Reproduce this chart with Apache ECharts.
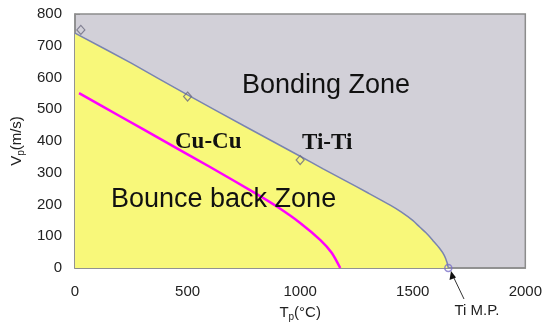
<!DOCTYPE html>
<html>
<head>
<meta charset="utf-8">
<script src="https://cdn.jsdelivr.net/npm/echarts@6/dist/echarts.min.js"></script>
<style>html,body{margin:0;padding:0;background:#fff}#c{width:545px;height:331px}</style>
</head>
<body>
<div id="c"></div>
<script>
// Boundary curve (Ti-Ti critical velocity) : temperature (°C) / velocity (m/s)
const boundaryT = [0, 250, 500, 750, 1000, 1100, 1200, 1300, 1400, 1450, 1500, 1531, 1560, 1590, 1619, 1640, 1652, 1658];
const boundaryV = [740, 645, 545, 448, 352, 313, 275, 237, 198, 176, 150, 129, 110, 86, 62, 40, 18, 0];
// Cu-Cu curve
const cuT = [18, 200, 400, 600, 800, 900, 1000, 1090, 1140, 1178];
const cuV = [551, 478, 398, 318, 236, 192, 142, 88, 48, 0];
// Experimental diamond markers
const markT = [26, 500, 1000];
const markV = [750, 540, 340];
// Ti melting point
const meltT = [1658];
const meltV = [0];
const xTicks = [0, 500, 1000, 1500, 2000];
const yTicks = [0, 100, 200, 300, 400, 500, 600, 700, 800];

const zip = (a, b) => a.map((v, i) => [v, b[i]]);
const chart = echarts.init(document.getElementById('c'));
const axisGray = '#8c8c8c';
chart.setOption({
  animation: false,
  grid: {left: 75, right: 19, top: 14, bottom: 63, show: true,
         backgroundColor: '#d2d0d8', borderColor: axisGray, borderWidth: 1.5},
  xAxis: {type: 'value', min: xTicks[0], max: xTicks[xTicks.length-1], interval: 500,
    name: '{a|T}{s|p}{a|(°C)}', nameLocation: 'middle', nameGap: 36,
    nameTextStyle: {rich: {a: {fontSize: 15, fontFamily: 'Liberation Sans', color: '#222'},
                           s: {fontSize: 10, fontFamily: 'Liberation Sans', color: '#222', padding: [8, 0, 0, 0]}}},
    axisLine: {lineStyle: {color: axisGray, width: 1.5}},
    axisTick: {inside: true, length: 5, lineStyle: {color: axisGray}},
    axisLabel: {fontSize: 15, fontFamily: 'Liberation Sans', color: '#222', margin: 16, formatter: v => String(v)},
    splitLine: {show: false}},
  yAxis: {type: 'value', min: yTicks[0], max: yTicks[yTicks.length-1], interval: 100,
    name: '{a|V}{s|p}{a|(m/s)}', nameLocation: 'middle', nameGap: 47, nameRotate: 90,
    nameTextStyle: {rich: {a: {fontSize: 15, fontFamily: 'Liberation Sans', color: '#222'},
                           s: {fontSize: 10, fontFamily: 'Liberation Sans', color: '#222', padding: [8, 0, 0, 0]}}},
    axisLine: {show: true, lineStyle: {color: axisGray, width: 1.5}},
    axisTick: {show: true, inside: true, length: 5, lineStyle: {color: axisGray}},
    axisLabel: {fontSize: 15, fontFamily: 'Liberation Sans', color: '#222', margin: 13, formatter: v => String(v)},
    splitLine: {show: false}},
  series: [
    {type: 'line', data: zip(boundaryT, boundaryV), smooth: 0.25, symbol: 'none',
     lineStyle: {color: '#7a84b0', width: 1.5}, areaStyle: {color: '#f8f87a', opacity: 1}, z: 2},
    {type: 'line', data: zip(cuT, cuV), smooth: 0.25, symbol: 'none',
     lineStyle: {color: '#ff00ff', width: 2.5}, z: 3},
    {type: 'scatter', data: zip(markT, markV), symbol: 'diamond', symbolSize: [8, 9],
     itemStyle: {color: 'rgba(0,0,0,0)', borderColor: '#6b6a80', borderWidth: 1.2}, z: 4},
    {type: 'scatter', data: zip(meltT, meltV), symbol: 'circle', symbolSize: 7,
     itemStyle: {color: 'rgba(0,0,0,0)', borderColor: '#7a70c8', borderWidth: 1.5}, z: 4, clip: false}
  ],
  graphic: [
    {type: 'text', z: 10, style: {x: 242, y: 86, text: 'Bonding Zone', font: '27px "Liberation Sans"', fill: '#111', textVerticalAlign: 'middle'}},
    {type: 'text', z: 10, style: {x: 111, y: 200, text: 'Bounce back Zone', font: '27px "Liberation Sans"', fill: '#111', textVerticalAlign: 'middle'}},
    {type: 'text', z: 10, style: {x: 175, y: 142, text: 'Cu-Cu', font: 'bold 23px "Liberation Serif"', fill: '#111', textVerticalAlign: 'middle'}},
    {type: 'text', z: 10, style: {x: 302, y: 143, text: 'Ti-Ti', font: 'bold 23px "Liberation Serif"', fill: '#111', textVerticalAlign: 'middle'}},
    {type: 'text', z: 10, style: {x: 477, y: 311, text: 'Ti M.P.', font: '15px "Liberation Sans"', fill: '#222', textAlign: 'center', textVerticalAlign: 'middle'}},
    {type: 'line', z: 10, shape: {x1: 464, y1: 299, x2: 453, y2: 276}, style: {stroke: '#333', lineWidth: 1}},
    {type: 'polygon', z: 10, shape: {points: [[451, 271], [449.5, 280], [456, 277.5]]}, style: {fill: '#111'}}
  ]
});
</script>
</body>
</html>
